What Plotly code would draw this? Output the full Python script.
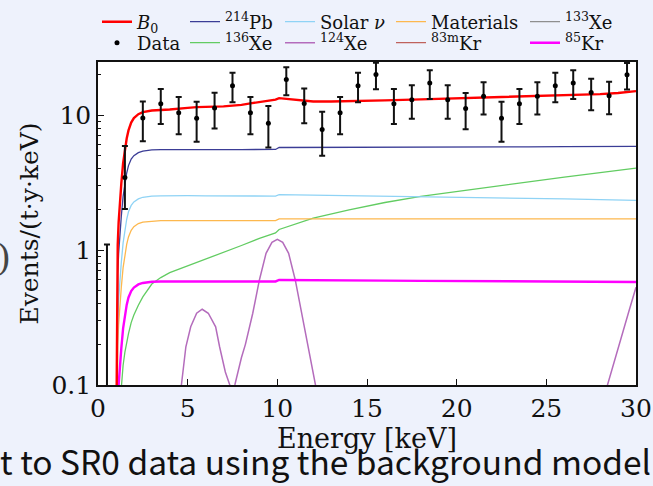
import plotly.graph_objects as go

# ---------------- data ----------------
energy_bins = [0.5, 1.5, 2.5, 3.5, 4.5, 5.5, 6.5, 7.5, 8.5, 9.5, 10.5, 11.5, 12.5, 13.5, 14.5,
               15.5, 16.5, 17.5, 18.5, 19.5, 20.5, 21.5, 22.5, 23.5, 24.5, 25.5, 26.5, 27.5,
               28.5, 29.5]
data_rate = [0.001, 3.45, 9.5, 12.1, 10.4, 9.45, 11.3, 16.5, 10.4, 8.7, 18.3, 12.2, 7.8, 10.4,
             16.5, 20.0, 12.1, 13.0, 17.3, 13.0, 11.2, 13.8, 9.45, 12.1, 13.8, 16.5, 17.3, 14.7,
             13.9, 19.9]
data_err_up = [1.1, 2.45, 3.1, 3.5, 3.2, 3.1, 3.35, 4.05, 3.2, 2.95, 4.3, 3.5, 2.8, 3.2, 4.05,
               4.45, 3.5, 3.6, 4.15, 3.6, 3.35, 3.7, 3.1, 3.5, 3.7, 4.05, 4.15, 3.85, 3.75, 4.45]
data_err_down = [0.0, 1.44, 3.1, 3.5, 3.2, 3.1, 3.35, 4.05, 3.2, 2.95, 4.3, 3.5, 2.8, 3.2, 4.05,
                 4.45, 3.5, 3.6, 4.15, 3.6, 3.35, 3.7, 3.1, 3.5, 3.7, 4.05, 4.15, 3.85, 3.75, 4.45]

x_model = [1.02, 1.06, 1.1, 1.15, 1.2, 1.3, 1.4, 1.5, 1.6, 1.7, 1.85, 2.0, 2.25, 2.5, 3.0, 3.5,
           4.0, 4.5, 5.0, 6.0, 7.0, 8.0, 9.0, 9.9, 10.1, 11.0, 12.0, 14.0, 16.0, 18.0, 20.0,
           22.0, 24.0, 26.0, 28.0, 30.0]
pb214 = [0.022, 0.28, 0.67, 0.94, 1.22, 1.78, 2.5, 3.16, 3.72, 4.22, 4.72, 5.0, 5.27, 5.41, 5.52,
         5.54, 5.55, 5.55, 5.55, 5.55, 5.55, 5.55, 5.55, 5.56, 5.75, 5.75, 5.76, 5.77, 5.78,
         5.79, 5.8, 5.81, 5.82, 5.83, 5.84, 5.85]
solar_nu = [0.01, 0.126, 0.3, 0.43, 0.555, 0.81, 1.13, 1.44, 1.69, 1.92, 2.14, 2.27, 2.39, 2.46,
            2.51, 2.52, 2.53, 2.53, 2.53, 2.52, 2.52, 2.52, 2.51, 2.51, 2.57, 2.56, 2.56, 2.54,
            2.52, 2.49, 2.47, 2.45, 2.42, 2.39, 2.36, 2.33]
materials = [0.0066, 0.083, 0.2, 0.28, 0.363, 0.53, 0.74, 0.94, 1.1, 1.25, 1.4, 1.49, 1.57, 1.61,
             1.64, 1.65, 1.65, 1.65, 1.65, 1.65, 1.65, 1.65, 1.65, 1.65, 1.7, 1.7, 1.7, 1.7, 1.7,
             1.7, 1.7, 1.7, 1.7, 1.7, 1.7, 1.7]
kr85 = [0.0023, 0.029, 0.07, 0.1, 0.129, 0.187, 0.263, 0.333, 0.392, 0.445, 0.497, 0.527, 0.556,
        0.57, 0.582, 0.584, 0.585, 0.585, 0.585, 0.585, 0.585, 0.585, 0.585, 0.585, 0.6, 0.6,
        0.598, 0.595, 0.593, 0.591, 0.589, 0.587, 0.585, 0.583, 0.581, 0.58]
xe136 = [0.001, 0.01, 0.025, 0.045, 0.065, 0.1, 0.14, 0.175, 0.21, 0.24, 0.29, 0.33, 0.39, 0.45,
         0.56, 0.625, 0.68, 0.72, 0.76, 0.86, 0.96, 1.08, 1.22, 1.34, 1.42, 1.56, 1.72, 1.98,
         2.25, 2.5, 2.72, 2.95, 3.22, 3.47, 3.75, 4.05]
kr83m = [0.0] * len(x_model)
xe133 = [0.0] * len(x_model)

x_xe124 = [4.3, 4.65, 4.9, 5.17, 5.5, 5.81, 6.15, 6.56, 6.78, 7.1, 7.35, 7.5, 7.63, 8.0, 8.22,
           8.63, 9.0, 9.37, 9.7, 10.0, 10.3, 10.63, 11.0, 11.37, 11.78, 12.2, 12.6, 13.0, 20.0,
           28.0, 28.4, 28.8, 29.2, 29.6, 30.0]
xe124 = [0.05, 0.1, 0.192, 0.27, 0.34, 0.364, 0.34, 0.27, 0.192, 0.125, 0.1, 0.088, 0.1, 0.16,
         0.2, 0.34, 0.6, 0.945, 1.14, 1.2, 1.14, 0.945, 0.6, 0.34, 0.192, 0.1, 0.05, 0.025, None,
         0.065, 0.1, 0.15, 0.23, 0.35, 0.53]

x_b0 = [1.02, 1.06, 1.1, 1.15, 1.2, 1.3, 1.4, 1.5, 1.6, 1.7, 1.85, 2.0, 2.25, 2.5, 3.0, 4.0,
        4.5, 5.0, 5.5, 6.0, 6.5, 7.0, 7.5, 8.0, 8.5, 9.0, 9.5, 9.9, 10.1, 10.5, 11.0, 11.5, 12.0,
        13.0, 14.0, 16.0, 18.0, 20.0, 22.0, 24.0, 26.0, 28.0, 29.0, 30.0]
b0 = [0.04, 0.45, 1.1, 1.6, 2.1, 3.1, 4.4, 5.6, 6.7, 7.7, 8.8, 9.5, 10.15, 10.5, 10.8, 11.0,
      11.1, 11.3, 11.45, 11.55, 11.55, 11.6, 11.7, 11.9, 12.2, 12.5, 12.9, 13.0, 13.35, 13.2,
      12.9, 12.7, 12.6, 12.6, 12.65, 12.85, 13.07, 13.28, 13.5, 13.75, 13.97, 14.3, 14.55, 15.05]

x_ticks = [0, 5, 10, 15, 20, 25, 30]
y_ticks = [0.1, 1, 10]
y_tick_text = ["0.1", "1", "10"]
y_minor = [0.2, 0.3, 0.4, 0.5, 0.6, 0.7, 0.8, 0.9, 2, 3, 4, 5, 6, 7, 8, 9, 20]

SERIF = "DejaVu Serif"
INK = "#111111"

# geometry (pixels)
W, H = 653, 486
L0, PW = 98, 538          # plot left, plot width
PB = 101                  # bottom margin
PAPER_H = H - PB          # paper height (top margin 0)
PLOT_TOP = 62

def px_x(x):
    return (x - L0) / PW

def px_y(y):
    return (PAPER_H - y) / PAPER_H

# legend slots: (text x, text centre y)
slots = {
    "legend": (140, 22), "legend2": (140, 43),
    "legend3": (228, 22), "legend4": (228, 43),
    "legend5": (323, 22), "legend6": (323, 43),
    "legend7": (434, 22), "legend8": (434, 43),
    "legend9": (568, 22), "legend10": (568, 43),
}

fig = go.Figure()

def line(x, y, name, color, width, legend):
    fig.add_trace(go.Scatter(x=x, y=y, mode="lines", name=name, showlegend=True,
                             line=dict(color=color, width=width),
                             legend=legend, hoverinfo="skip"))

line(x_model, xe133, "<sup>133</sup>Xe", "#8f8f8f", 1.3, "legend9")
line(x_model, kr83m, "<sup>83m</sup>Kr", "#bf625c", 1.3, "legend8")
line(x_model, xe136, "<sup>136</sup>Xe", "#62cc62", 1.3, "legend4")
line(x_xe124, xe124, "<sup>124</sup>Xe", "#b46cbc", 1.5, "legend6")
line(x_model, materials, "Materials", "#fdb84e", 1.3, "legend7")
line(x_model, solar_nu, "Solar <i>ν</i>", "#8fd3f5", 1.3, "legend5")
line(x_model, pb214, "<sup>214</sup>Pb", "#3b3d96", 1.3, "legend3")
line(x_model, kr85, "<sup>85</sup>Kr", "#ff00ff", 2.4, "legend10")
line(x_b0, b0, "<i>B</i><sub>0</sub>", "#ff0000", 2.4, "legend")

fig.add_trace(go.Scatter(
    x=energy_bins, y=data_rate, mode="markers", name="Data", showlegend=True,
    marker=dict(color="black", size=5),
    error_y=dict(type="data", array=data_err_up, arrayminus=data_err_down, symmetric=False,
                 color=INK, thickness=2, width=3),
    legend="legend2", hoverinfo="skip"))

legends = {}
for key, (tx, ty) in slots.items():
    legends[key] = dict(x=px_x(tx - 43), y=px_y(ty), xanchor="left", yanchor="middle",
                        bgcolor="rgba(0,0,0,0)", borderwidth=0, visible=True,
                        font=dict(family=SERIF, size=18, color=INK))

axis_common = dict(showline=True, linecolor=INK, linewidth=1.6, mirror=True,
                   ticks="inside", tickcolor=INK, tickwidth=1.4, ticklen=6,
                   showgrid=False, zeroline=False, automargin=False,
                   tickfont=dict(family=SERIF, size=25, color=INK))

fig.update_layout(
    width=W, height=H, showlegend=True,
    margin=dict(l=L0, r=W - L0 - PW, t=0, b=PB, autoexpand=False),
    paper_bgcolor="#eef2fc", plot_bgcolor="white",
    **legends,
    xaxis=dict(range=[0, 30], tickvals=x_ticks,
               title=dict(text="Energy [keV]", font=dict(family=SERIF, size=27, color=INK),
                          standoff=2),
               **axis_common),
    yaxis=dict(type="log", range=[-1, 1.393], tickvals=y_ticks, ticktext=y_tick_text,
               domain=[0, (PAPER_H - PLOT_TOP) / PAPER_H],
               minor=dict(tickvals=y_minor, ticks="inside", ticklen=3, tickcolor=INK,
                          tickwidth=1.2),
               title=dict(text="Events/(t·y·keV)", font=dict(family=SERIF, size=25, color=INK),
                          standoff=6),
               **axis_common),
    annotations=[
        dict(text="t to SR0 data using the background model", xref="paper", yref="paper",
             x=px_x(653), y=px_y(460), xanchor="right", yanchor="middle",
             showarrow=False, font=dict(family="Noto Sans CJK JP", size=33.5, color=INK)),
        dict(text=")", xref="paper", yref="paper", x=px_x(13), y=px_y(257),
             xanchor="right", yanchor="middle", showarrow=False,
             font=dict(family=SERIF, size=36, color="#444444")),
    ],
)

fig.write_html("out.html", config={"displayModeBar": False},
               post_script="document.body.style.margin='0';document.body.style.padding='0';"
                           "document.documentElement.style.background='#eef2fc';")
